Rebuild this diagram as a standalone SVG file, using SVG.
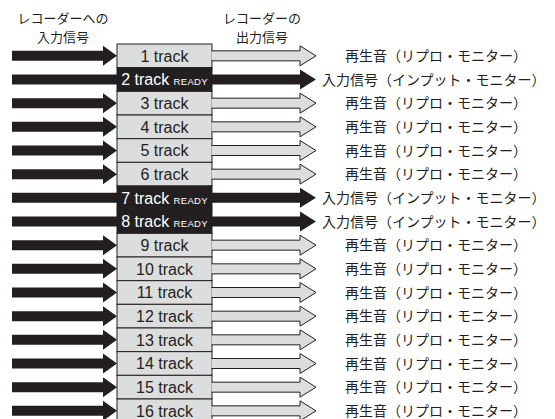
<svg xmlns="http://www.w3.org/2000/svg" width="555" height="419" viewBox="0 0 555 419">
<style>
.bg{fill:#ffffff}
.cell{fill:#dcdddd;stroke:#231f20;stroke-width:1}
.cellr{fill:#231f20;stroke:#231f20;stroke-width:1}
.tk{font-family:"Liberation Sans",Arial,sans-serif;font-size:16px;fill:#231f20;text-anchor:middle}
.tkr{font-family:"Liberation Sans",Arial,sans-serif;font-size:16px;fill:#ffffff;text-anchor:middle}
.rd{font-size:9.5px;letter-spacing:0.3px}
.jp{font-family:"Noto Sans CJK JP","Noto Sans",sans-serif;font-size:14px;fill:#231f20}
.hd{font-family:"Noto Sans CJK JP","Noto Sans",sans-serif;font-size:13px;fill:#231f20;text-anchor:middle}
.ain{fill:#231f20}
.aout{fill:#dcdddd;stroke:#231f20;stroke-width:1;stroke-linejoin:miter}
</style>
<rect class="bg" x="0" y="0" width="555" height="419"/>
<g id="headers">
<text class="hd" x="63" y="22.5">レコーダーへの</text>
<text class="hd" x="63" y="41.5">入力信号</text>
<text class="hd" x="262" y="22.5">レコーダーの</text>
<text class="hd" x="262" y="41.5">出力信号</text>
</g>
<g id="connectors">
<polygon class="ain" points="12,50.83 103,50.83 103,45.83 117,55.83 103,65.83 103,60.83 12,60.83"/>
<polygon class="ain" points="12,74.5 117.5,74.5 117.5,84.5 12,84.5"/>
<polygon class="ain" points="211.5,74.5 300,74.5 300,69.5 316,79.5 300,89.5 300,84.5 211.5,84.5"/>
<polygon class="ain" points="12,98.17 103,98.17 103,93.17 117,103.17 103,113.17 103,108.17 12,108.17"/>
<polygon class="ain" points="12,121.83 103,121.83 103,116.83 117,126.83 103,136.83 103,131.83 12,131.83"/>
<polygon class="ain" points="12,145.5 103,145.5 103,140.5 117,150.5 103,160.5 103,155.5 12,155.5"/>
<polygon class="ain" points="12,169.17 103,169.17 103,164.17 117,174.17 103,184.17 103,179.17 12,179.17"/>
<polygon class="ain" points="12,192.83 117.5,192.83 117.5,202.83 12,202.83"/>
<polygon class="ain" points="211.5,192.83 300,192.83 300,187.83 316,197.83 300,207.83 300,202.83 211.5,202.83"/>
<polygon class="ain" points="12,216.5 117.5,216.5 117.5,226.5 12,226.5"/>
<polygon class="ain" points="211.5,216.5 300,216.5 300,211.5 316,221.5 300,231.5 300,226.5 211.5,226.5"/>
<polygon class="ain" points="12,240.17 103,240.17 103,235.17 117,245.17 103,255.17 103,250.17 12,250.17"/>
<polygon class="ain" points="12,263.83 103,263.83 103,258.83 117,268.83 103,278.83 103,273.83 12,273.83"/>
<polygon class="ain" points="12,287.5 103,287.5 103,282.5 117,292.5 103,302.5 103,297.5 12,297.5"/>
<polygon class="ain" points="12,311.17 103,311.17 103,306.17 117,316.17 103,326.17 103,321.17 12,321.17"/>
<polygon class="ain" points="12,334.83 103,334.83 103,329.83 117,339.83 103,349.83 103,344.83 12,344.83"/>
<polygon class="ain" points="12,358.5 103,358.5 103,353.5 117,363.5 103,373.5 103,368.5 12,368.5"/>
<polygon class="ain" points="12,382.17 103,382.17 103,377.17 117,387.17 103,397.17 103,392.17 12,392.17"/>
<polygon class="ain" points="12,405.83 103,405.83 103,400.83 117,410.83 103,420.83 103,415.83 12,415.83"/>
</g>
<g id="track1"><rect class="cell" x="117" y="44" width="95" height="23.67"/><text class="tk" x="164.5" y="61.5">1 track</text></g>
<g id="track2"><rect class="cellr" x="117" y="67.67" width="95" height="23.67"/><text class="tkr" x="164.5" y="85.2">2 track <tspan class="rd">READY</tspan></text></g>
<g id="track3"><rect class="cell" x="117" y="91.33" width="95" height="23.67"/><text class="tk" x="164.5" y="108.8">3 track</text></g>
<g id="track4"><rect class="cell" x="117" y="115" width="95" height="23.67"/><text class="tk" x="164.5" y="132.5">4 track</text></g>
<g id="track5"><rect class="cell" x="117" y="138.67" width="95" height="23.67"/><text class="tk" x="164.5" y="156.2">5 track</text></g>
<g id="track6"><rect class="cell" x="117" y="162.33" width="95" height="23.67"/><text class="tk" x="164.5" y="179.8">6 track</text></g>
<g id="track7"><rect class="cellr" x="117" y="186" width="95" height="23.67"/><text class="tkr" x="164.5" y="203.5">7 track <tspan class="rd">READY</tspan></text></g>
<g id="track8"><rect class="cellr" x="117" y="209.67" width="95" height="23.67"/><text class="tkr" x="164.5" y="227.2">8 track <tspan class="rd">READY</tspan></text></g>
<g id="track9"><rect class="cell" x="117" y="233.33" width="95" height="23.67"/><text class="tk" x="164.5" y="250.8">9 track</text></g>
<g id="track10"><rect class="cell" x="117" y="257" width="95" height="23.67"/><text class="tk" x="164.5" y="274.5">10 track</text></g>
<g id="track11"><rect class="cell" x="117" y="280.67" width="95" height="23.67"/><text class="tk" x="164.5" y="298.2">11 track</text></g>
<g id="track12"><rect class="cell" x="117" y="304.33" width="95" height="23.67"/><text class="tk" x="164.5" y="321.8">12 track</text></g>
<g id="track13"><rect class="cell" x="117" y="328" width="95" height="23.67"/><text class="tk" x="164.5" y="345.5">13 track</text></g>
<g id="track14"><rect class="cell" x="117" y="351.67" width="95" height="23.67"/><text class="tk" x="164.5" y="369.2">14 track</text></g>
<g id="track15"><rect class="cell" x="117" y="375.33" width="95" height="23.67"/><text class="tk" x="164.5" y="392.8">15 track</text></g>
<g id="track16"><rect class="cell" x="117" y="399" width="95" height="23.67"/><text class="tk" x="164.5" y="416.5">16 track</text></g>
<g id="output-connectors">
<path class="aout" d="M211.5,50.83 H300 V45.83 L316,55.83 L300,65.83 V60.83 H211.5"/>
<path class="aout" d="M211.5,98.17 H300 V93.17 L316,103.17 L300,113.17 V108.17 H211.5"/>
<path class="aout" d="M211.5,121.83 H300 V116.83 L316,126.83 L300,136.83 V131.83 H211.5"/>
<path class="aout" d="M211.5,145.5 H300 V140.5 L316,150.5 L300,160.5 V155.5 H211.5"/>
<path class="aout" d="M211.5,169.17 H300 V164.17 L316,174.17 L300,184.17 V179.17 H211.5"/>
<path class="aout" d="M211.5,240.17 H300 V235.17 L316,245.17 L300,255.17 V250.17 H211.5"/>
<path class="aout" d="M211.5,263.83 H300 V258.83 L316,268.83 L300,278.83 V273.83 H211.5"/>
<path class="aout" d="M211.5,287.5 H300 V282.5 L316,292.5 L300,302.5 V297.5 H211.5"/>
<path class="aout" d="M211.5,311.17 H300 V306.17 L316,316.17 L300,326.17 V321.17 H211.5"/>
<path class="aout" d="M211.5,334.83 H300 V329.83 L316,339.83 L300,349.83 V344.83 H211.5"/>
<path class="aout" d="M211.5,358.5 H300 V353.5 L316,363.5 L300,373.5 V368.5 H211.5"/>
<path class="aout" d="M211.5,382.17 H300 V377.17 L316,387.17 L300,397.17 V392.17 H211.5"/>
<path class="aout" d="M211.5,405.83 H300 V400.83 L316,410.83 L300,420.83 V415.83 H211.5"/>
</g>
<g id="labels">
<text class="jp" x="345" y="60.8">再生音（リプロ・モニター）</text>
<text class="jp" x="322" y="84.5">入力信号（インプット・モニター）</text>
<text class="jp" x="345" y="108.2">再生音（リプロ・モニター）</text>
<text class="jp" x="345" y="131.8">再生音（リプロ・モニター）</text>
<text class="jp" x="345" y="155.5">再生音（リプロ・モニター）</text>
<text class="jp" x="345" y="179.2">再生音（リプロ・モニター）</text>
<text class="jp" x="322" y="202.8">入力信号（インプット・モニター）</text>
<text class="jp" x="322" y="226.5">入力信号（インプット・モニター）</text>
<text class="jp" x="345" y="250.2">再生音（リプロ・モニター）</text>
<text class="jp" x="345" y="273.8">再生音（リプロ・モニター）</text>
<text class="jp" x="345" y="297.5">再生音（リプロ・モニター）</text>
<text class="jp" x="345" y="321.2">再生音（リプロ・モニター）</text>
<text class="jp" x="345" y="344.8">再生音（リプロ・モニター）</text>
<text class="jp" x="345" y="368.5">再生音（リプロ・モニター）</text>
<text class="jp" x="345" y="392.2">再生音（リプロ・モニター）</text>
<text class="jp" x="345" y="415.8">再生音（リプロ・モニター）</text>
</g>
</svg>
